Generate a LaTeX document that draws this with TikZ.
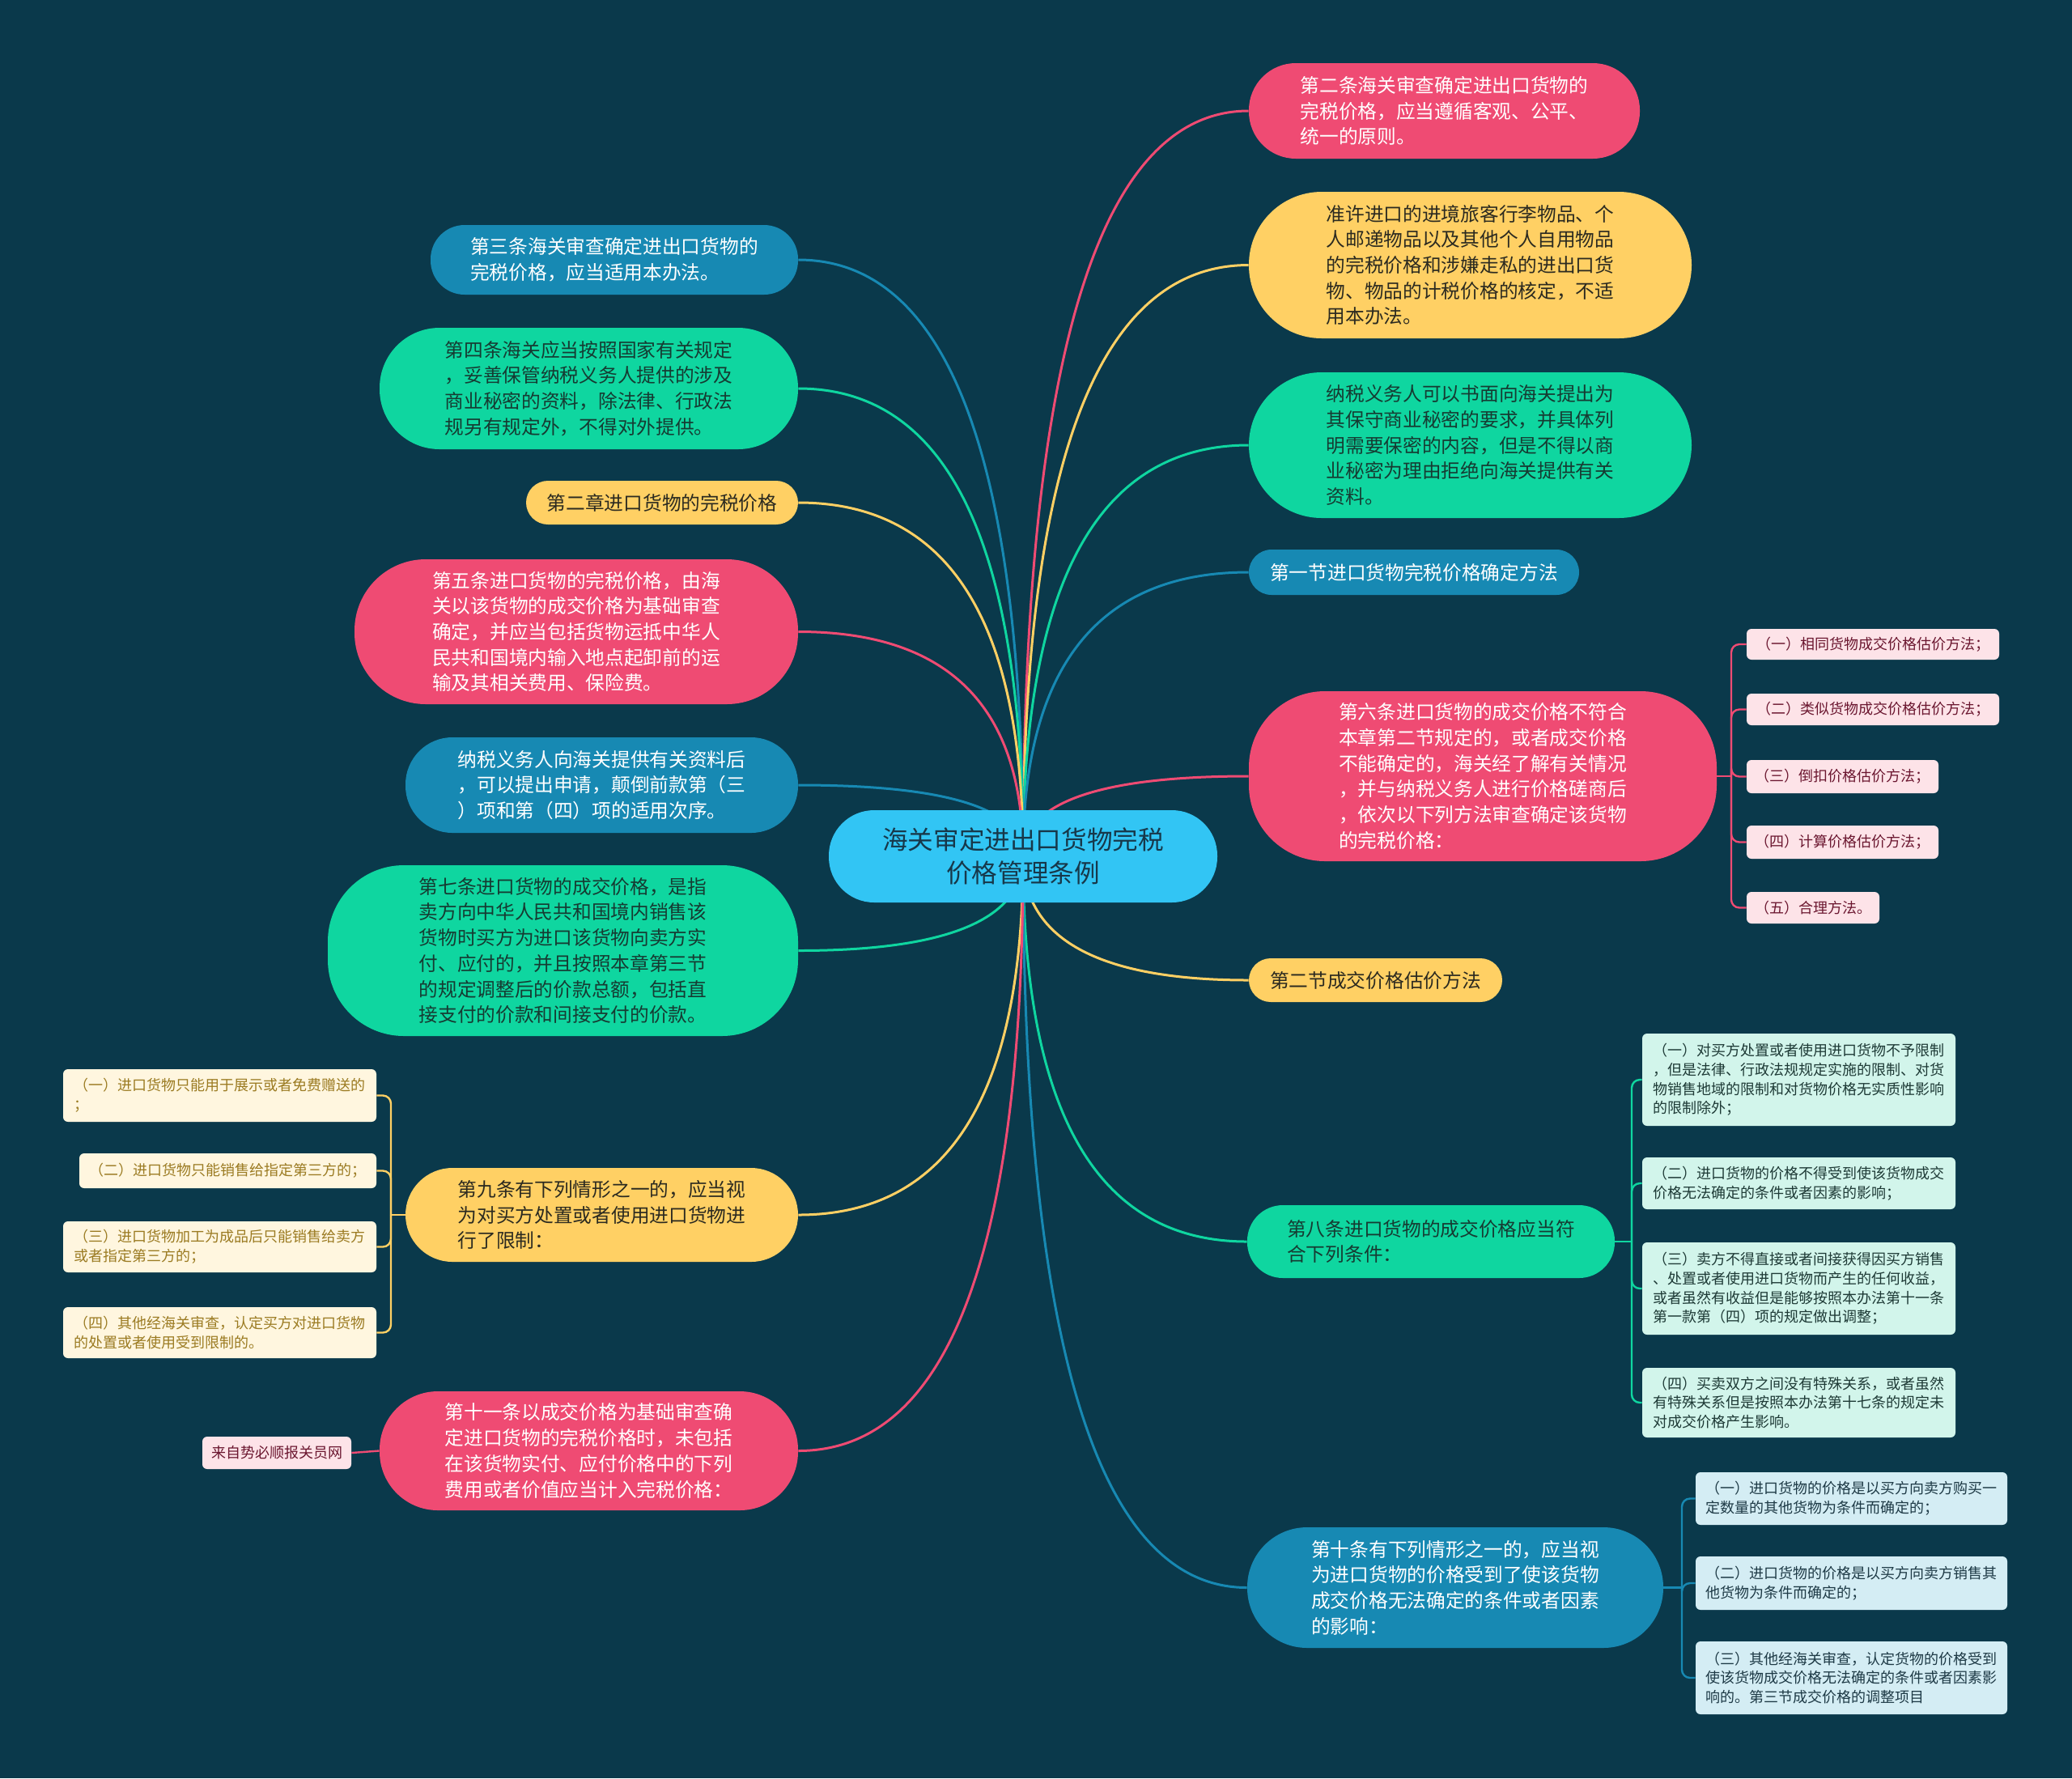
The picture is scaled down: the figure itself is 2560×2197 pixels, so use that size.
\documentclass[tikz,border=0pt]{standalone}
\usepackage{fontspec}
\setmainfont{Noto Sans CJK SC}
\usetikzlibrary{calc}
\pgfdeclarelayer{back}
\pgfsetlayers{back,main}
\definecolor{bgc}{HTML}{0A394B}
\definecolor{pinkc}{HTML}{EF4B73}
\definecolor{yellowc}{HTML}{FFD064}
\definecolor{greenc}{HTML}{0FD6A0}
\definecolor{bluec}{HTML}{1789B3}
\definecolor{rootc}{HTML}{32C5F4}
\definecolor{roottext}{HTML}{17384A}
\definecolor{ytext}{HTML}{2B2A20}
\definecolor{gtext}{HTML}{163B32}
\definecolor{subpink}{HTML}{FDE3E8}
\definecolor{subpinktext}{HTML}{6B1730}
\definecolor{submint}{HTML}{D2F5EB}
\definecolor{subminttext}{HTML}{1E3A36}
\definecolor{subblue}{HTML}{D4EDF4}
\definecolor{subbluetext}{HTML}{1E3A46}
\definecolor{subcream}{HTML}{FFF6DF}
\definecolor{subcreamtext}{HTML}{9B7B22}
\tikzset{
  mainbox/.style={rectangle, inner sep=0pt, align=left, font=\fontsize{11.85}{15.85}\selectfont},
  pinkbox/.style={mainbox, fill=pinkc, text=white},
  yellowbox/.style={mainbox, fill=yellowc, text=ytext},
  greenbox/.style={mainbox, fill=greenc, text=gtext},
  bluebox/.style={mainbox, fill=bluec, text=white},
  subbox/.style={rectangle, rounded corners=3pt, inner sep=0pt, align=left, font=\fontsize{9}{11.85}\selectfont},
  subpinkbox/.style={subbox, fill=subpink, text=subpinktext},
  submintbox/.style={subbox, fill=submint, text=subminttext},
  subbluebox/.style={subbox, fill=subblue, text=subbluetext},
  subcreambox/.style={subbox, fill=subcream, text=subcreamtext},
  link/.style={line width=1.5pt},
  sublink/.style={line width=1.2pt, rounded corners=5pt},
  sz/.style n args={3}{minimum width=#1pt, minimum height=#2pt, rounded corners=#3pt}
}
\newcommand\mmlink[2]{\draw[link,#1] (root.center) .. controls ($(root.center)!0.667!(root.center |- #2)$) and ($(#2)!0.667!(root.center |- #2)$) .. (#2);}
\begin{document}
\begin{tikzpicture}[x=0.5pt,y=-0.5pt]
\begin{pgfonlayer}{back}
\fill[bgc] (0,0) rectangle (2560,2197);
\end{pgfonlayer}
\useasboundingbox (0,0) rectangle (2560,2197);

% root
\node[rectangle, inner sep=0pt, align=center, fill=rootc, text=roottext, font=\fontsize{15.8}{20.4}\selectfont, sz={240}{57}{28}] (root) at (1264,1058) {海关审定进出口货物完税\\价格管理条例};

% right side
\node[pinkbox, sz={241.5}{59}{29}] (R1) at (1784.5,137) {第二条海关审查确定进出口货物的\\完税价格，应当遵循客观、公平、\\统一的原则。};
\node[yellowbox, sz={273.5}{90.5}{45}] (R2) at (1816.5,327.5) {准许进口的进境旅客行李物品、个\\人邮递物品以及其他个人自用物品\\的完税价格和涉嫌走私的进出口货\\物、物品的计税价格的核定，不适\\用本办法。};
\node[greenbox, sz={273.5}{90}{45}] (R3) at (1816.5,550) {纳税义务人可以书面向海关提出为\\其保守商业秘密的要求，并具体列\\明需要保密的内容，但是不得以商\\业秘密为理由拒绝向海关提供有关\\资料。};
\node[bluebox, sz={204}{28}{14}] (R4) at (1747,707) {第一节进口货物完税价格确定方法};
\node[pinkbox, sz={289}{105}{47}] (R5) at (1832,959) {第六条进口货物的成交价格不符合\\本章第二节规定的，或者成交价格\\不能确定的，海关经了解有关情况\\，并与纳税义务人进行价格磋商后\\，依次以下列方法审查确定该货物\\的完税价格：};
\node[yellowbox, sz={156.5}{27}{13.5}] (R6) at (1699.5,1211) {第二节成交价格估价方法};
\node[greenbox, sz={227}{45}{22}] (R7) at (1768,1534) {第八条进口货物的成交价格应当符\\合下列条件：};
\node[bluebox, sz={257}{74.5}{37}] (R8) at (1798,1961.5) {第十条有下列情形之一的，应当视\\为进口货物的价格受到了使该货物\\成交价格无法确定的条件或者因素\\的影响：};

% left side
\node[bluebox, sz={227}{43}{21}] (L1) at (759,321) {第三条海关审查确定进出口货物的\\完税价格，应当适用本办法。};
\node[greenbox, sz={258.5}{75}{37}] (L2) at (727.5,480) {第四条海关应当按照国家有关规定\\，妥善保管纳税义务人提供的涉及\\商业秘密的资料，除法律、行政法\\规另有规定外，不得对外提供。};
\node[yellowbox, sz={168}{27}{13.5}] (L3) at (818,621) {第二章进口货物的完税价格};
\node[pinkbox, sz={274}{89.5}{44}] (L4) at (712,780.5) {第五条进口货物的完税价格，由海\\关以该货物的成交价格为基础审查\\确定，并应当包括货物运抵中华人\\民共和国境内输入地点起卸前的运\\输及其相关费用、保险费。};
\node[bluebox, sz={242.5}{59}{29}] (L5) at (743.5,970) {纳税义务人向海关提供有关资料后\\，可以提出申请，颠倒前款第（三\\）项和第（四）项的适用次序。};
\node[greenbox, sz={290.5}{105.5}{47}] (L6) at (695.5,1174.5) {第七条进口货物的成交价格，是指\\卖方向中华人民共和国境内销售该\\货物时买方为进口该货物向卖方实\\付、应付的，并且按照本章第三节\\的规定调整后的价款总额，包括直\\接支付的价款和间接支付的价款。};
\node[yellowbox, sz={242.5}{58}{29}] (L7) at (743.5,1501) {第九条有下列情形之一的，应当视\\为对买方处置或者使用进口货物进\\行了限制：};
\node[pinkbox, sz={258.5}{73.5}{36}] (L8) at (727.5,1792.5) {第十一条以成交价格为基础审查确\\定进口货物的完税价格时，未包括\\在该货物实付、应付价格中的下列\\费用或者价值应当计入完税价格：};

% sub nodes R5
\node[subpinkbox, minimum width=156pt, minimum height=19pt] (R5a) at (2314,796) {（一）相同货物成交价格估价方法；};
\node[subpinkbox, minimum width=156pt, minimum height=19.5pt] (R5b) at (2314,876.5) {（二）类似货物成交价格估价方法；};
\node[subpinkbox, minimum width=118.5pt, minimum height=20.5pt] (R5c) at (2276.5,959.5) {（三）倒扣价格估价方法；};
\node[subpinkbox, minimum width=118.5pt, minimum height=20.5pt] (R5d) at (2276.5,1040.5) {（四）计算价格估价方法；};
\node[subpinkbox, minimum width=82pt, minimum height=19.5pt] (R5e) at (2240,1121.5) {（五）合理方法。};

% sub nodes R7
\node[submintbox, minimum width=193.5pt, minimum height=57pt] (R7a) at (2222.5,1334) {（一）对买方处置或者使用进口货物不予限制\\，但是法律、行政法规规定实施的限制、对货\\物销售地域的限制和对货物价格无实质性影响\\的限制除外；};
\node[submintbox, minimum width=193.5pt, minimum height=32pt] (R7b) at (2222.5,1462) {（二）进口货物的价格不得受到使该货物成交\\价格无法确定的条件或者因素的影响；};
\node[submintbox, minimum width=193.5pt, minimum height=57pt] (R7c) at (2222.5,1592) {（三）卖方不得直接或者间接获得因买方销售\\、处置或者使用进口货物而产生的任何收益，\\或者虽然有收益但是能够按照本办法第十一条\\第一款第（四）项的规定做出调整；};
\node[submintbox, minimum width=193.5pt, minimum height=43pt] (R7d) at (2222.5,1733) {（四）买卖双方之间没有特殊关系，或者虽然\\有特殊关系但是按照本办法第十七条的规定未\\对成交价格产生影响。};

% sub nodes R8
\node[subbluebox, minimum width=192.5pt, minimum height=32.5pt] (R8a) at (2287.5,1851.5) {（一）进口货物的价格是以买方向卖方购买一\\定数量的其他货物为条件而确定的；};
\node[subbluebox, minimum width=192.5pt, minimum height=33pt] (R8b) at (2287.5,1956) {（二）进口货物的价格是以买方向卖方销售其\\他货物为条件而确定的；};
\node[subbluebox, minimum width=192.5pt, minimum height=45pt] (R8c) at (2287.5,2073) {（三）其他经海关审查，认定货物的价格受到\\使该货物成交价格无法确定的条件或者因素影\\响的。第三节成交价格的调整项目};

% sub nodes L7
\node[subcreambox, minimum width=193.5pt, minimum height=32.5pt] (L7a) at (271.5,1353.5) {（一）进口货物只能用于展示或者免费赠送的\\；};
\node[subcreambox, minimum width=183.5pt, minimum height=21.5pt] (L7b) at (281.5,1446.5) {（二）进口货物只能销售给指定第三方的；};
\node[subcreambox, minimum width=193.5pt, minimum height=31.5pt] (L7c) at (271.5,1540.5) {（三）进口货物加工为成品后只能销售给卖方\\或者指定第三方的；};
\node[subcreambox, minimum width=193.5pt, minimum height=31.5pt] (L7d) at (271.5,1646.5) {（四）其他经海关审查，认定买方对进口货物\\的处置或者使用受到限制的。};

% sub node L8
\node[subpinkbox, minimum width=92pt, minimum height=20pt] (L8a) at (342,1795) {来自势必顺报关员网};

% junctions
\coordinate (J5) at (2139,959);
\coordinate (J7) at (2016,1534);
\coordinate (J8) at (2078,1961.5);
\coordinate (JL7) at (483,1501);

\begin{pgfonlayer}{back}
\mmlink{pinkc}{R1.west}
\mmlink{yellowc}{R2.west}
\mmlink{greenc}{R3.west}
\mmlink{bluec}{R4.west}
\mmlink{pinkc}{R5.west}
\mmlink{yellowc}{R6.west}
\mmlink{greenc}{R7.west}
\mmlink{bluec}{R8.west}
\mmlink{bluec}{L1.east}
\mmlink{greenc}{L2.east}
\mmlink{yellowc}{L3.east}
\mmlink{pinkc}{L4.east}
\mmlink{bluec}{L5.east}
\mmlink{greenc}{L6.east}
\mmlink{yellowc}{L7.east}
\mmlink{pinkc}{L8.east}

\draw[sublink,pinkc] (R5.east) -- (J5);
\foreach \c in {R5a,R5b,R5c,R5d,R5e} \draw[sublink,pinkc] (J5) |- (\c.west);
\draw[sublink,greenc] (R7.east) -- (J7);
\foreach \c in {R7a,R7b,R7c,R7d} \draw[sublink,greenc] (J7) |- (\c.west);
\draw[sublink,bluec] (R8.east) -- (J8);
\foreach \c in {R8a,R8b,R8c} \draw[sublink,bluec] (J8) |- (\c.west);
\draw[sublink,yellowc] (L7.west) -- (JL7);
\foreach \c in {L7a,L7b,L7c,L7d} \draw[sublink,yellowc] (JL7) |- (\c.east);
\draw[sublink,pinkc] (L8.west) -- (L8a.east);
\end{pgfonlayer}
\end{tikzpicture}
\end{document}
